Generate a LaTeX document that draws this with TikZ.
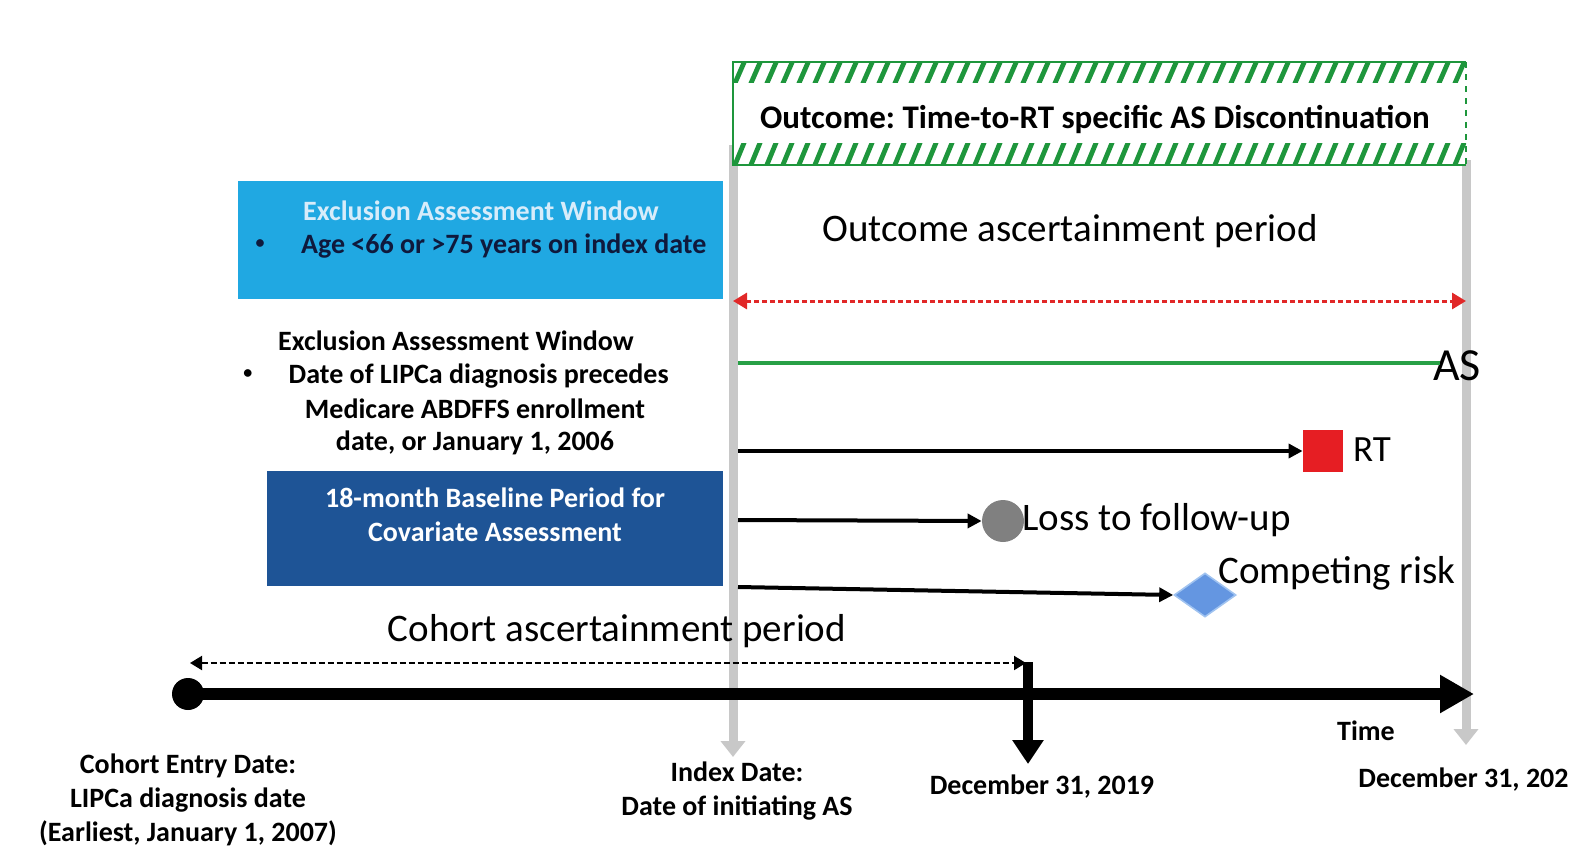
\documentclass[tikz,border=0pt]{standalone}
\usepackage{fontspec}
\setmainfont{Carlito}
\usetikzlibrary{arrows.meta,shapes.geometric}
\definecolor{guidegray}{RGB}{200,200,200}
\definecolor{hatchgreen}{RGB}{30,150,60}
\definecolor{asgreen}{RGB}{40,160,70}
\definecolor{lblue}{RGB}{32,168,226}
\definecolor{dblue}{RGB}{30,84,150}
\definecolor{lbhead}{RGB}{215,236,250}
\definecolor{navy}{RGB}{15,25,60}
\definecolor{rtred}{RGB}{230,30,35}
\definecolor{lossgray}{RGB}{128,128,128}
\definecolor{crblue}{RGB}{100,150,225}
\definecolor{crrim}{RGB}{160,195,240}
\definecolor{dashred}{RGB}{225,40,40}
\newcommand{\smbul}{\raisebox{2.6pt}{\fontsize{9}{9}\selectfont\textbullet}}
\frenchspacing
\tikzset{
  lbl/.style={font=\fontsize{14}{17}\selectfont\bfseries, align=center, inner sep=0pt},
  big/.style={font=\fontsize{19.5}{23}\selectfont, inner sep=0pt},
  guide/.style={guidegray, line width=4.5pt, -{Triangle[width=12pt,length=8pt]}},
  hatch/.style={hatchgreen, line width=2.4pt},
  event/.style={line width=2pt, -{Triangle[width=7pt,length=7pt]}},
  marker/.style={inner sep=0pt, draw=none}
}
\begin{document}
\begin{tikzpicture}[x=0.5pt,y=-0.5pt]
  \useasboundingbox (0,0) rectangle (1571,858);
  % named points of the time frame
  \coordinate (itop) at (733,145);
  \coordinate (ibot) at (733,757);
  \coordinate (etop) at (1466,160);
  \coordinate (ebot) at (1466,745);
  \coordinate (axend) at (1474,694);
  \coordinate (ctop) at (1028,662);
  \coordinate (cbot) at (1028,764);
  \coordinate (cleft) at (190,663);
  \coordinate (cright) at (1026,663);
  \coordinate (oleft) at (733,301);
  \coordinate (oright) at (1466,301);
  % index and end lines
  \draw[guide] (itop) -- (ibot);
  \draw[guide] (etop) -- (ebot);
  % outcome box
  \fill[white] (733,62) rectangle (1466,165);
  \begin{scope}
    \clip (733,62) rectangle (1466,82);
    \foreach \x in {700,716,...,1490} \draw[hatch] (\x,90) -- ++(14,-32);
  \end{scope}
  \begin{scope}
    \clip (733,143) rectangle (1466,165);
    \foreach \x in {700,716,...,1490} \draw[hatch] (\x,172) -- ++(14,-34);
  \end{scope}
  \draw[hatchgreen, line width=0.6pt] (1466,62) -- (733,62) -- (733,165) -- (1466,165);
  \draw[hatchgreen, line width=0.6pt, dashed] (1466,62) -- (1466,165);
  \node[lbl, font=\fontsize{16.5}{20}\selectfont\bfseries] (outc) at (1095,119)
    {Outcome: Time-to-RT specific AS Discontinuation};
  % left windows
  \node[marker, fill=lblue, minimum width=242.5pt, minimum height=59pt] (xbox) at (480.5,240) {};
  \node[lbl, text=lbhead] (xw1) at (481,211) {Exclusion Assessment Window};
  \node[lbl, text=navy] (age) at (481,246) {\smbul\hspace{1.3em}Age <66 or >75 years on index date};
  \node[lbl] (xw2) at (456,341) {Exclusion Assessment Window};
  \node[lbl] (lip) at (456,376) {\smbul\hspace{1.3em}Date of LIPCa diagnosis precedes};
  \node[lbl] (med) at (475,409) {Medicare ABDFFS enrollment};
  \node[lbl] (jan) at (475,443) {date, or January 1, 2006};
  \node[marker, fill=dblue, minimum width=228pt, minimum height=57.5pt] (bbox) at (495,528.5) {};
  \node[lbl, text=white] (base) at (495,515) {18-month Baseline Period for\\Covariate Assessment};
  % outcome period
  \node[big] (oap) at (1070,231) {Outcome ascertainment period};
  \draw[dashred, line width=1.5pt, dash pattern=on 2.5pt off 1.5pt,
    {Triangle[width=8pt,length=7pt]}-{Triangle[width=8pt,length=7pt]}] (oleft) -- (oright);
  % follow-up lines
  \node[font=\fontsize{23}{26}\selectfont, inner sep=0pt] (as) at (1457,366) {AS};
  \draw[asgreen, line width=2pt] (738,363) -- (1440,363);
  \node[marker, fill=rtred, minimum width=20pt, minimum height=21pt] (rt) at (1323,451) {};
  \node[font=\fontsize{18.5}{22}\selectfont, inner sep=0pt] (rtl) at (1372,450) {RT};
  \draw[event] (738,451) -- (rt.west);
  \node[marker, circle, fill=lossgray, minimum size=21pt] (loss) at (1003,521) {};
  \node[big, anchor=west] (lossl) at (1022,520) {Loss to follow-up};
  \draw[event] (738,520) -- (loss.west);
  \node[marker, diamond, fill=crblue, draw=crrim, line width=0.8pt,
    minimum width=31pt, minimum height=22pt] (risk) at (1205,595) {};
  \node[big, anchor=west] (riskl) at (1218,573) {Competing risk};
  \draw[event] (738,587) -- (risk.west);
  % cohort period and time axis
  \node[big] (cap) at (617,631) {Cohort ascertainment period};
  \draw[line width=1pt, dash pattern=on 3pt off 1.5pt,
    {Triangle[width=7pt,length=6pt]}-{Triangle[width=7pt,length=6pt]}] (cleft) -- (cright);
  \node[marker, circle, fill=black, minimum size=16pt] (entry) at (188,694) {};
  \draw[line width=6pt, -{Triangle[width=18pt,length=17pt]}] (entry.center) -- (axend);
  \draw[line width=5pt, -{Triangle[width=15pt,length=12pt]}] (ctop) -- (cbot);
  \node[lbl] (time) at (1366,731) {Time};
  % dates
  \node[lbl] (entl) at (188,800) {Cohort Entry Date:\\LIPCa diagnosis date\\(Earliest, January 1, 2007)};
  \node[lbl] (idxl) at (737,791) {Index Date:\\Date of initiating AS};
  \node[lbl] (dec19) at (1042,787) {December 31, 2019};
  \node[lbl, anchor=west] (decend) at (1358,780) {December 31, 202};
\end{tikzpicture}
\end{document}
